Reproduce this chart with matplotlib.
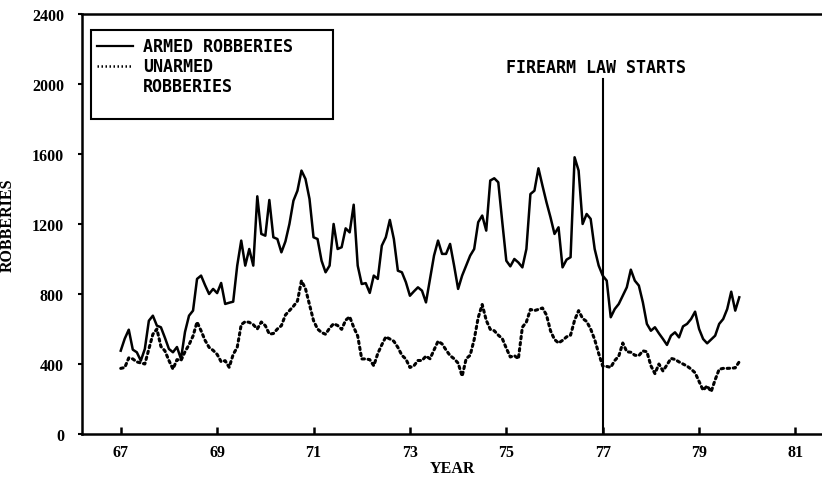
import numpy as np
import matplotlib
matplotlib.use("Agg")
import matplotlib.pyplot as plt
from matplotlib.patches import Rectangle

# monthly robbery counts, Jan 1967 onwards
armed = [
    476, 545, 596, 482, 467, 419, 486, 647, 676, 619, 610, 550,
    486, 467, 497, 429, 583, 676, 705, 886, 905, 850, 800, 829,
    805, 863, 743, 750, 756, 962, 1105, 962, 1057, 962, 1358, 1143,
    1133, 1337, 1124, 1114, 1038, 1100, 1200, 1333, 1390, 1505, 1457, 1343,
    1124, 1114, 990, 924, 962, 1200, 1057, 1067, 1175, 1152, 1310, 962,
    857, 862, 806, 905, 886, 1076, 1124, 1223, 1114, 933, 924, 867,
    790, 815, 838, 819, 752, 886, 1019, 1105, 1029, 1029, 1086, 962,
    829, 905, 962, 1019, 1057, 1210, 1248, 1162, 1448, 1461, 1438, 1210,
    990, 958, 1000, 980, 952, 1057, 1371, 1390, 1518, 1419, 1324, 1238,
    1143, 1181, 952, 996, 1010, 1581, 1505, 1200, 1257, 1229, 1057, 962,
    905, 876, 667, 714, 743, 790, 838, 939, 876, 848, 752, 629,
    590, 610, 575, 543, 509, 562, 581, 552, 615, 629, 657, 699,
    600, 543, 518, 540, 562, 629, 657, 714, 813, 705, 781,
]
unarmed = [
    375, 380, 435, 429, 412, 406, 400, 486, 570, 600, 500, 475,
    420, 371, 425, 420, 470, 510, 560, 640, 590, 535, 495, 478,
    455, 413, 419, 381, 455, 495, 625, 642, 638, 625, 600, 640,
    619, 571, 574, 600, 619, 680, 705, 730, 760, 876, 830, 740,
    648, 600, 580, 570, 605, 630, 620, 598, 650, 670, 610, 560,
    429, 429, 425, 390, 460, 510, 555, 543, 530, 495, 450, 428,
    380, 390, 420, 420, 445, 430, 480, 530, 515, 480, 448, 430,
    405, 330, 430, 450, 540, 665, 740, 650, 598, 590, 565, 545,
    490, 440, 448, 430, 610, 640, 712, 705, 712, 720, 680, 590,
    540, 520, 535, 555, 565, 650, 705, 660, 643, 600, 540, 460,
    388, 386, 381, 420, 445, 520, 470, 467, 450, 448, 475, 470,
    390, 345, 400, 360, 395, 432, 426, 412, 400, 388, 371, 350,
    300, 250, 275, 242, 310, 370, 375, 375, 376, 378, 413,
]
start_year = 67
law_year = 77
law_top = 2030
xticks = [67, 69, 71, 73, 75, 77, 79, 81]
yticks = [0, 400, 800, 1200, 1600, 2000, 2400]

year = start_year + np.arange(len(armed)) / 12

serif = {"family": "Liberation Serif", "weight": "bold", "size": 11.5}
plotter = {"family": "DejaVu Sans Mono", "weight": "bold", "size": 12}

fig = plt.figure(figsize=(8.22, 4.81), dpi=100)
ax = fig.add_axes([0.0998, 0.0956, 0.9002, 0.8734])

ax.plot(year, armed, color="black", lw=1.8, solid_joinstyle="round")
ax.plot(year, unarmed, color="black", lw=2.2, linestyle=(0, (0.8, 1.2)),
        dash_capstyle="round")

# firearm law marker
ax.plot([law_year, law_year], [0, law_top], color="black", lw=1.5)
ax.text(76.87, 2095, "FIREARM LAW STARTS", ha="center", va="center", **plotter)

ax.set_xlim(66.197, 81.55)
ax.set_ylim(0, 2400)
ax.set_xticks(xticks)
ax.set_yticks(yticks)
ax.set_xticklabels([str(t) for t in xticks], fontdict=serif)
ax.set_yticklabels([str(t) for t in yticks], fontdict=serif)
ax.tick_params(axis="x", direction="in", length=5, width=1.8, pad=7)
ax.tick_params(axis="y", direction="out", length=3, width=1.5, pad=10)

for side in ["left", "bottom", "top"]:
    ax.spines[side].set_linewidth(1.8)
ax.spines["right"].set_visible(False)

ax.set_xlabel("YEAR", fontdict=serif, labelpad=0)
ax.set_ylabel("ROBBERIES", fontdict=serif)
ax.yaxis.set_label_coords(-0.089, 0.5)

# hand-drawn legend box, like the plotter original
tr = ax.transAxes
ax.add_patch(Rectangle((0.0118, 0.75), 0.327, 0.2126, transform=tr,
                       fill=False, edgecolor="black", lw=1.5))
ax.plot([0.020, 0.069], [0.924, 0.924], transform=tr, color="black", lw=1.6)
ax.plot([0.020, 0.069], [0.876, 0.876], transform=tr, color="black", lw=1.8,
        linestyle=(0, (0.6, 1.0)))
ax.text(0.0824, 0.924, "ARMED ROBBERIES", transform=tr, va="center", **plotter)
ax.text(0.0824, 0.876, "UNARMED", transform=tr, va="center", **plotter)
ax.text(0.0824, 0.829, "ROBBERIES", transform=tr, va="center", **plotter)

fig.savefig("out.png", dpi=100)
